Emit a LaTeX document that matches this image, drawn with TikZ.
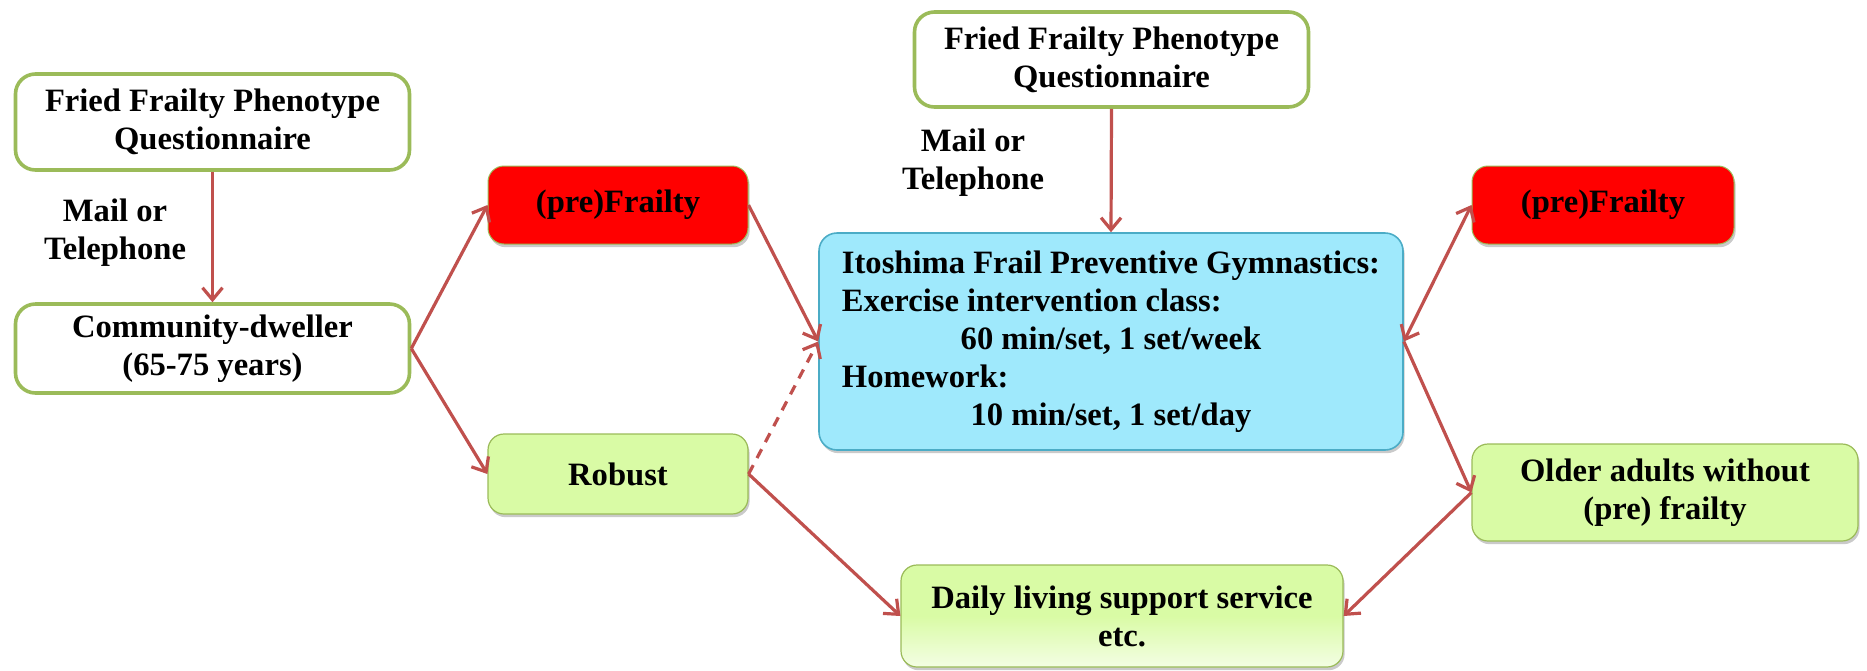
\documentclass[tikz,border=0pt]{standalone}
\usepackage{fontspec}
\setmainfont{Liberation Serif}
\usepackage{xcolor}
\usepackage{tikz}
\usetikzlibrary{arrows.meta, positioning, shadows}
\definecolor{linkred}{HTML}{C0504D}
\definecolor{leafgreen}{HTML}{9BBB59}
\definecolor{robustfill}{HTML}{D9FBA5}
\definecolor{frailred}{HTML}{FF0000}
\definecolor{gymfill}{HTML}{9FE9FC}
\definecolor{gymedge}{HTML}{4BACC6}
\newcommand{\boxfont}{\fontsize{16.3}{19}\selectfont\bfseries}
\tikzset{
    qbox/.style={
        rectangle, rounded corners=10pt, draw=leafgreen, fill=white,
        line width=1.8pt, minimum width=197pt, align=center,
        font=\boxfont, text=black
    },
    frailbox/.style={
        rectangle, rounded corners=8pt, draw=leafgreen, fill=frailred,
        line width=0.5pt, minimum width=130pt, minimum height=39pt,
        font=\boxfont, text=black, align=center,
        drop shadow={shadow xshift=0.8pt, shadow yshift=-1.6pt, opacity=0.35, fill=black!60}
    },
    robustbox/.style={
        rectangle, rounded corners=8pt, draw=leafgreen, fill=robustfill,
        line width=0.6pt, font=\boxfont, text=black, align=center,
        drop shadow={shadow xshift=0.8pt, shadow yshift=-1.6pt, opacity=0.35, fill=black!60}
    },
    gymbox/.style={
        rectangle, rounded corners=9pt, draw=gymedge, fill=gymfill,
        line width=0.8pt, minimum width=292pt, minimum height=108.5pt,
        font=\boxfont, text=black,
        drop shadow={shadow xshift=0.8pt, shadow yshift=-1.6pt, opacity=0.35, fill=black!60}
    },
    waylab/.style={font=\boxfont, text=black, align=center},
    flowarrow/.style={
        -{Straight Barb[length=6pt, width=10pt]}, line width=1.6pt, draw=linkred
    },
    flowboth/.style={
        {Straight Barb[length=6pt, width=10pt]}-{Straight Barb[length=6pt, width=10pt]},
        line width=1.6pt, draw=linkred
    },
    flowdash/.style={flowarrow, dash pattern=on 5pt off 4pt},
}

\begin{document}
\begin{tikzpicture}[x=0.5pt, y=-0.5pt]
    \useasboundingbox (0,0) rectangle (1867,670);

    % ── Screening ──
    \node[qbox, minimum height=48pt] (fqLeft) at (212.5,122) {Fried Frailty Phenotype\\Questionnaire};
    \node[qbox, minimum height=44.5pt] (dweller) at (212.5,348.5) {Community-dweller\\(65-75 years)};
    \node[waylab] (mailLeft) at (115,233) {Mail or\\Telephone};

    % ── Classification ──
    \node[frailbox] (frailLeft) at (618,205) {(pre)Frailty};
    \node[robustbox, minimum width=130pt, minimum height=40pt] (robust) at (618,474) {Robust};

    % ── Intervention ──
    \node[qbox, minimum height=47.5pt] (fqTop) at (1111.5,59.5) {Fried Frailty Phenotype\\Questionnaire};
    \node[waylab] (mailTop) at (973,163) {Mail or\\Telephone};
    \node[gymbox] (gym) at (1111,341.5) {%
        \begin{tabular}{@{}l@{}}
        Itoshima Frail Preventive Gymnastics:\\
        Exercise intervention class:\\
        \multicolumn{1}{@{}c@{}}{60 min/set, 1 set/week}\\
        Homework:\\
        \multicolumn{1}{@{}c@{}}{10 min/set, 1 set/day}
        \end{tabular}};

    % ── Outcome ──
    \node[frailbox, minimum width=131pt] (frailRight) at (1603,205) {(pre)Frailty};
    \node[robustbox, minimum width=193pt, minimum height=48.5pt] (older) at (1665,492.5) {Older adults without\\(pre) frailty};
    \node[robustbox, minimum width=221pt, minimum height=51pt,
          top color=robustfill, bottom color=robustfill!30!white, middle color=robustfill] (daily) at (1122,616) {Daily living support service\\etc.};

    % ── Arrows ──
    \draw[flowarrow] (fqLeft.south) -- (dweller.north);
    \draw[flowarrow] (dweller.east) -- (frailLeft.west);
    \draw[flowarrow] (dweller.east) -- (robust.west);
    \draw[flowarrow] (frailLeft.east) -- (gym.west);
    \draw[flowdash] (robust.east) -- (gym.west);
    \draw[flowarrow] (robust.east) -- (daily.west);
    \draw[flowarrow] (fqTop.south) -- (gym.north);
    \draw[flowboth] (gym.east) -- (frailRight.west);
    \draw[flowarrow] (gym.east) -- (older.west);
    \draw[flowarrow] (older.west) -- (daily.east);

\end{tikzpicture}
\end{document}
